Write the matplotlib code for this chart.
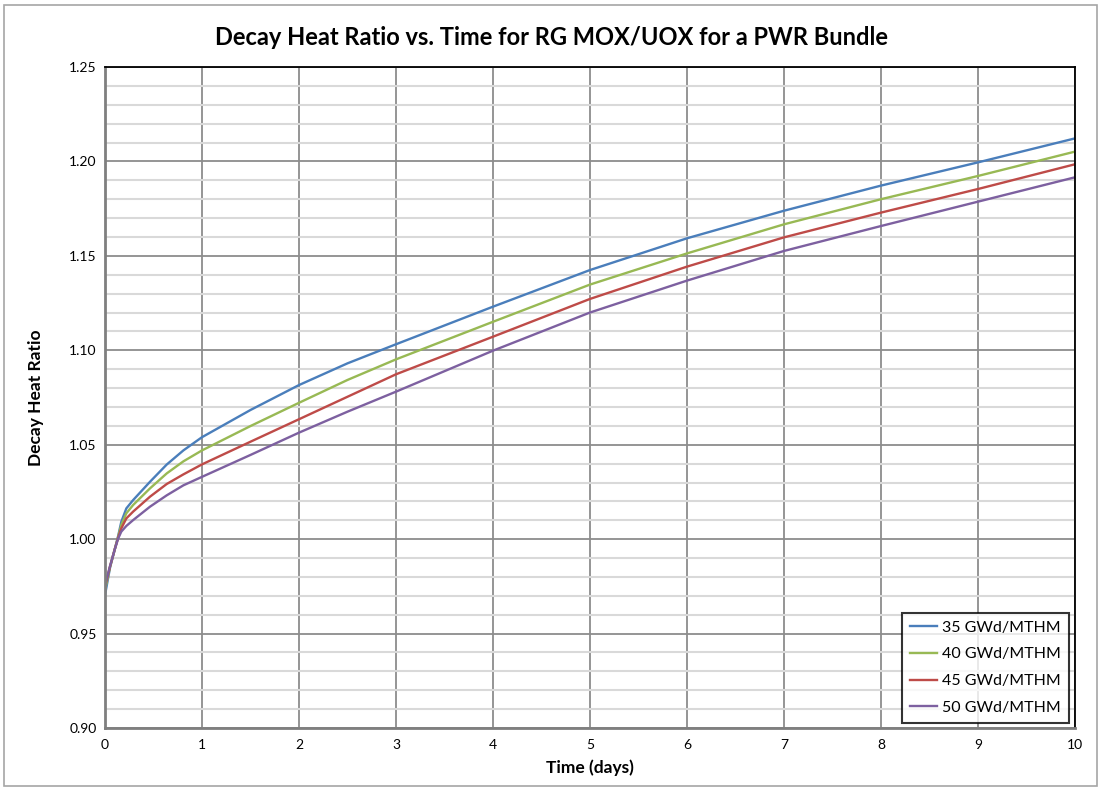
import numpy as np
import matplotlib.pyplot as plt
from matplotlib.patches import Rectangle

# time in days
days = [0, 0.052, 0.103, 0.137, 0.168, 0.22, 0.29, 0.464, 0.636, 0.808, 1,
        1.5, 2, 2.5, 3, 4, 5, 6, 7, 8, 9, 10]

# decay heat ratio
ratio_35 = [0.9704, 0.9850, 0.9951, 1.0020, 1.0092, 1.0163, 1.0207, 1.0304, 1.0395, 1.0470, 1.0540,
            1.0684, 1.0816, 1.0931, 1.1032, 1.1231, 1.1425, 1.1593, 1.1739, 1.1872, 1.1995, 1.2122]
ratio_40 = [0.9731, 0.9853, 0.9951, 1.0015, 1.0075, 1.0137, 1.0181, 1.0269, 1.0348, 1.0412, 1.0470,
            1.0599, 1.0722, 1.0843, 1.0952, 1.1151, 1.1348, 1.1513, 1.1667, 1.1800, 1.1923, 1.2052]
ratio_45 = [0.9748, 0.9856, 0.9951, 1.0010, 1.0057, 1.0110, 1.0146, 1.0225, 1.0292, 1.0343, 1.0396,
            1.0516, 1.0635, 1.0754, 1.0873, 1.1072, 1.1272, 1.1443, 1.1598, 1.1729, 1.1854, 1.1985]
ratio_50 = [0.9757, 0.9858, 0.9950, 1.0005, 1.0040, 1.0070, 1.0101, 1.0172, 1.0232, 1.0285, 1.0330,
            1.0446, 1.0564, 1.0675, 1.0781, 1.0998, 1.1200, 1.1369, 1.1526, 1.1658, 1.1787, 1.1916]

labels = ["35 GWd/MTHM", "40 GWd/MTHM", "45 GWd/MTHM", "50 GWd/MTHM"]
colors = ["#4a7ebb", "#98b954", "#be4b48", "#7d60a0"]

plt.rcParams['font.family'] = ['Lato', 'DejaVu Sans']

fig = plt.figure(figsize=(11.03, 7.91), dpi=100)
ax = fig.add_axes([0.0952, 0.0796, 0.8794, 0.8357])

for y, lab, c in zip([ratio_35, ratio_40, ratio_45, ratio_50], labels, colors):
    ax.plot(days, y, color=c, lw=1.7, label=lab, solid_joinstyle='round')

ax.set_xlim(0, 10)
ax.set_ylim(0.90, 1.25)
ax.set_xticks(np.arange(0, 11, 1))
ax.set_yticks(np.arange(0.90, 1.2501, 0.05))
ax.set_yticks(np.arange(0.90, 1.2501, 0.01), minor=True)
ax.set_yticklabels([f"{v:.2f}" for v in np.arange(0.90, 1.2501, 0.05)])

ax.grid(which='minor', axis='y', color='#d9d9d9', lw=1.5)
ax.grid(which='major', axis='both', color='#8c8c8c', lw=1.3)
ax.set_axisbelow(True)

ax.tick_params(which='both', length=0, labelsize=10, pad=6)
ax.tick_params(axis='x', pad=8)
for s in ['left', 'bottom']:
    ax.spines[s].set_color('#7f7f7f')
    ax.spines[s].set_linewidth(2)
for s in ['top', 'right']:
    ax.spines[s].set_color('black')
    ax.spines[s].set_linewidth(1.3)

ax.set_xlabel("Time (days)", fontsize=12.5, fontweight='bold', labelpad=6)
ax.set_ylabel("Decay Heat Ratio", fontsize=12.5, fontweight='bold', labelpad=18)
fig.text(0.5, 0.953, "Decay Heat Ratio vs. Time for RG MOX/UOX for a PWR Bundle",
         ha='center', va='center', fontsize=17, fontweight='bold')

leg = ax.legend(loc='lower right', bbox_to_anchor=(0.9935, 0.008), fontsize=11.5,
                frameon=True, fancybox=False, handlelength=1.7, handletextpad=0.3,
                borderpad=0.5, labelspacing=0.78, borderaxespad=0)
leg.get_frame().set_edgecolor('black')
leg.get_frame().set_linewidth(1.5)

fig.patches.append(Rectangle((0.004, 0.006), 0.991, 0.988, transform=fig.transFigure,
                             fill=False, edgecolor='#a6a6a6', lw=1.2))

fig.savefig("out.png", dpi=100)
